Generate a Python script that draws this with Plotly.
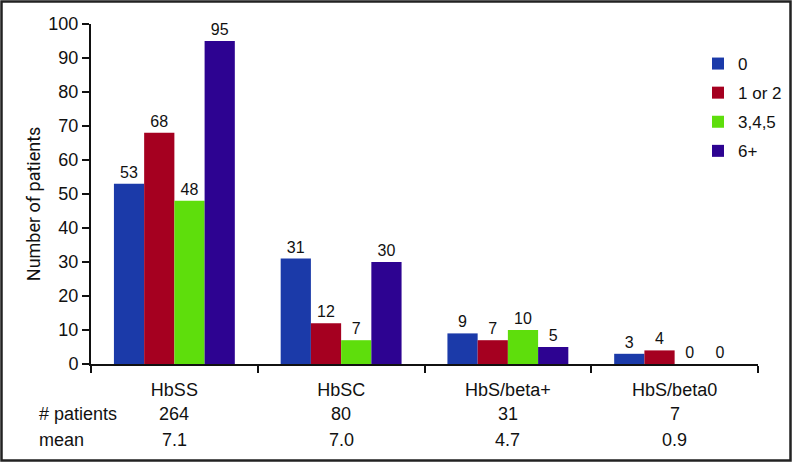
import plotly.graph_objects as go

# --- Data ---
genotypes = ["HbSS", "HbSC", "HbS/beta+", "HbS/beta0"]
series_names = ["0", "1 or 2", "3,4,5", "6+"]
series_values = [
    [53, 31, 9, 3],
    [68, 12, 7, 4],
    [48, 7, 10, 0],
    [95, 30, 5, 0],
]
patients = ["264", "80", "31", "7"]
means = ["7.1", "7.0", "4.7", "0.9"]

colors = ["#1b3aa9", "#a50020", "#5ede0c", "#2d0391"]
FONT = "Liberation Sans, Arial, sans-serif"

W, H = 792, 462
L, R, T, B = 91, 34, 24, 98
pw, ph = W - L - R, H - T - B

fig = go.Figure()
for name, vals, col in zip(series_names, series_values, colors):
    fig.add_trace(
        go.Bar(
            x=genotypes,
            y=vals,
            name=name,
            legendgroup=name,
            marker=dict(color=col, line=dict(width=0)),
            text=[str(v) for v in vals],
            textposition="outside",
            textfont=dict(size=16, color="#111", family=FONT),
            cliponaxis=False,
        )
    )

# table rows under the axis
row_y = {"p": -50 / ph, "m": -76 / ph}
annotations = []
for g, p, m in zip(genotypes, patients, means):
    for txt, yy in [(p, row_y["p"]), (m, row_y["m"])]:
        annotations.append(dict(x=g, y=yy, xref="x", yref="paper", text=txt,
                                yanchor="middle", showarrow=False,
                                font=dict(size=18, family=FONT, color="#111")))
for label, yy in [("# patients", row_y["p"]), ("mean", row_y["m"])]:
    annotations.append(dict(x=-54 / pw, y=yy, xref="paper", yref="paper", text=label,
                            xanchor="left", yanchor="middle", showarrow=False,
                            font=dict(size=18, family=FONT, color="#111")))

# y-axis title (sits a bit below the plot's middle in the original)
annotations.append(dict(x=-58 / pw, y=0.47, xref="paper", yref="paper",
                        text="Number of patients", textangle=-90, showarrow=False,
                        xanchor="center", yanchor="middle",
                        font=dict(size=18, family="Liberation Sans Narrow, Roboto, sans-serif",
                                  color="#111")))

border = dict(type="rect", xref="paper", yref="paper",
              x0=-(L - 1.5) / pw, x1=1 + (R - 1.5) / pw,
              y0=-(B - 1.5) / ph, y1=1 + (T - 1.5) / ph,
              line=dict(color="#222", width=2.5))

fig.update_layout(
    width=W,
    height=H,
    margin=dict(l=L, r=R, t=T, b=B, autoexpand=False),
    paper_bgcolor="white",
    plot_bgcolor="white",
    barmode="group",
    bargap=0.275,
    bargroupgap=0,
    font=dict(family=FONT, size=16, color="#111"),
    showlegend=True,
    legend=dict(xref="container", yref="container", x=698 / W, y=1 - 46 / H,
                xanchor="left", yanchor="top",
                font=dict(size=17, family=FONT), itemwidth=30,
                tracegroupgap=4, bgcolor="rgba(0,0,0,0)"),
    annotations=annotations,
    shapes=[border],
    xaxis=dict(
        showline=True, linecolor="#111", linewidth=2,
        ticks="outside", ticklen=7, tickwidth=2, tickcolor="#111",
        tickson="boundaries", ticklabelstandoff=8,
        tickfont=dict(size=18, family=FONT),
        showgrid=False,
    ),
    yaxis=dict(
        range=[0, 100], dtick=10,
        showline=True, linecolor="#111", linewidth=2,
        ticks="outside", ticklen=7, tickwidth=2, tickcolor="#111",
        tickfont=dict(size=18, family=FONT),
        showgrid=False, zeroline=False,
    ),
)

# plotly's page template keeps the browser's 8px body margin; drop it
fig.write_html(
    "out.html",
    config={"displayModeBar": False},
    post_script="document.body.style.margin='0';",
)
